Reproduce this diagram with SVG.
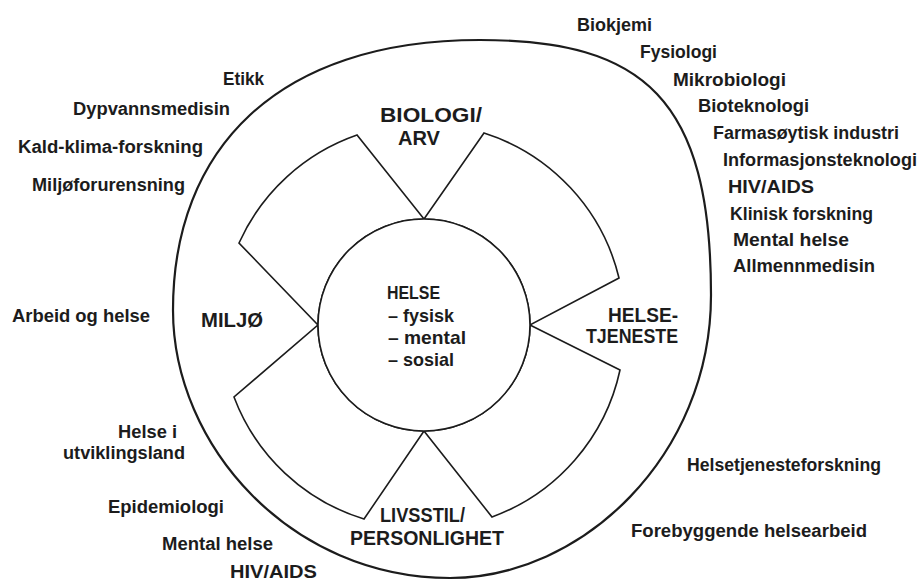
<svg xmlns="http://www.w3.org/2000/svg" width="918" height="582" viewBox="0 0 918 582">
<style>
.t{font-family:"Liberation Sans",Arial,sans-serif;font-weight:bold;font-size:18px;fill:#1c1c1c}
.h{font-size:20px}
.c{font-size:19px}
.sec{fill:#fff;stroke:#1c1c1c;stroke-width:1.6;stroke-linejoin:miter}
.outer{fill:none;stroke:#1c1c1c;stroke-width:2.2}
</style>
<rect width="918" height="582" fill="#fff"/>
<g id="outer-ring">
<path class="outer" d="M480,40 C644,40 711,99 711,295 C711,456 582,578 450,578 C291,578 173,446 173,310 C173,150 276,40 480,40 Z"/>
</g>
<g id="connectors"/>
<g id="sector-biologi">
<path class="sec" d="M424,219 L357,135 A202,202 0 0 0 239,243 L318,325 A106,106 0 0 1 424,219 Z"/>
<path class="sec" d="M424,219 L484,133 A202,202 0 0 1 619,278 L530,325 A106,106 0 0 0 424,219 Z"/>
<text class="t h" x="380" y="122" textLength="102" lengthAdjust="spacingAndGlyphs">BIOLOGI/</text>
<text class="t h" x="398" y="145" textLength="42" lengthAdjust="spacingAndGlyphs">ARV</text>
</g>
<g id="sector-helsetjeneste">
<path class="sec" d="M530,325 L620,370 A202,202 0 0 1 492,517 L424,431 A106,106 0 0 0 530,325 Z"/>
<text class="t h" x="608" y="322" textLength="70" lengthAdjust="spacingAndGlyphs">HELSE-</text>
<text class="t h" x="586" y="343" textLength="92" lengthAdjust="spacingAndGlyphs">TJENESTE</text>
</g>
<g id="sector-livsstil">
<path class="sec" d="M424,431 L364,519 A202,202 0 0 1 234,397 L318,325 A106,106 0 0 0 424,431 Z"/>
<text class="t h" x="380" y="522" textLength="85" lengthAdjust="spacingAndGlyphs">LIVSSTIL/</text>
<text class="t h" x="350" y="545" textLength="154" lengthAdjust="spacingAndGlyphs">PERSONLIGHET</text>
</g>
<g id="sector-miljo">
<text class="t h" x="201" y="327" textLength="62" lengthAdjust="spacingAndGlyphs">MILJØ</text>
</g>
<g id="center-helse">
<circle cx="424" cy="325" r="106" fill="#fff" stroke="#1c1c1c" stroke-width="1.6"/>
<text class="t c" x="387" y="299" textLength="53" lengthAdjust="spacingAndGlyphs">HELSE</text>
<text class="t c" x="388" y="322" textLength="66" lengthAdjust="spacingAndGlyphs">– fysisk</text>
<text class="t c" x="388" y="344" textLength="78" lengthAdjust="spacingAndGlyphs">– mental</text>
<text class="t c" x="388" y="366" textLength="66" lengthAdjust="spacingAndGlyphs">– sosial</text>
</g>
<g id="fields-right">
<text class="t" x="577" y="31" textLength="75" lengthAdjust="spacingAndGlyphs">Biokjemi</text>
<text class="t" x="640" y="58" textLength="77" lengthAdjust="spacingAndGlyphs">Fysiologi</text>
<text class="t" x="673" y="86" textLength="113" lengthAdjust="spacingAndGlyphs">Mikrobiologi</text>
<text class="t" x="698" y="112" textLength="111" lengthAdjust="spacingAndGlyphs">Bioteknologi</text>
<text class="t" x="713" y="139" textLength="186" lengthAdjust="spacingAndGlyphs">Farmasøytisk industri</text>
<text class="t" x="723" y="166" textLength="194" lengthAdjust="spacingAndGlyphs">Informasjonsteknologi</text>
<text class="t" x="728" y="193" textLength="86" lengthAdjust="spacingAndGlyphs">HIV/AIDS</text>
<text class="t" x="730" y="220" textLength="143" lengthAdjust="spacingAndGlyphs">Klinisk forskning</text>
<text class="t" x="733" y="246" textLength="116" lengthAdjust="spacingAndGlyphs">Mental helse</text>
<text class="t" x="733" y="272" textLength="142" lengthAdjust="spacingAndGlyphs">Allmennmedisin</text>
<text class="t" x="687" y="471" textLength="194" lengthAdjust="spacingAndGlyphs">Helsetjenesteforskning</text>
<text class="t" x="631" y="537" textLength="236" lengthAdjust="spacingAndGlyphs">Forebyggende helsearbeid</text>
</g>
<g id="fields-left">
<text class="t" x="223" y="85" textLength="41" lengthAdjust="spacingAndGlyphs">Etikk</text>
<text class="t" x="73" y="115" textLength="157" lengthAdjust="spacingAndGlyphs">Dypvannsmedisin</text>
<text class="t" x="18" y="153" textLength="185" lengthAdjust="spacingAndGlyphs">Kald-klima-forskning</text>
<text class="t" x="32" y="191" textLength="153" lengthAdjust="spacingAndGlyphs">Miljøforurensning</text>
<text class="t" x="12" y="322" textLength="138" lengthAdjust="spacingAndGlyphs">Arbeid og helse</text>
<text class="t" x="118" y="438" textLength="59" lengthAdjust="spacingAndGlyphs">Helse i</text>
<text class="t" x="63" y="459" textLength="122" lengthAdjust="spacingAndGlyphs">utviklingsland</text>
<text class="t" x="108" y="513" textLength="116" lengthAdjust="spacingAndGlyphs">Epidemiologi</text>
<text class="t" x="162" y="550" textLength="111" lengthAdjust="spacingAndGlyphs">Mental helse</text>
<text class="t" x="230" y="578" textLength="87" lengthAdjust="spacingAndGlyphs">HIV/AIDS</text>
</g>
</svg>
